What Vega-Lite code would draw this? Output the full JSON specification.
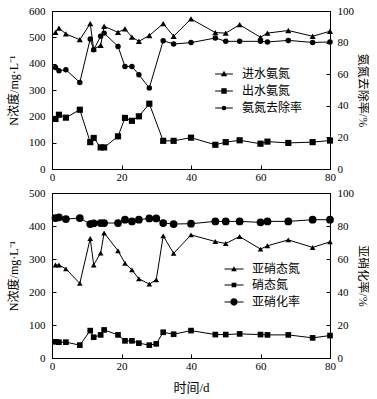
{
  "$schema": "https://vega.github.io/schema/vega-lite/v6.json",
  "padding": {"left": 7, "top": 4, "right": 0, "bottom": 2},
  "spacing": 3,
  "datasets": {
    "topN": [
      {"day": 1, "s": "进水氨氮", "v": 519}, {"day": 2, "s": "进水氨氮", "v": 535}, {"day": 4, "s": "进水氨氮", "v": 513}, {"day": 8, "s": "进水氨氮", "v": 491},
      {"day": 11, "s": "进水氨氮", "v": 552}, {"day": 12, "s": "进水氨氮", "v": 455}, {"day": 14, "s": "进水氨氮", "v": 470}, {"day": 15, "s": "进水氨氮", "v": 542},
      {"day": 19, "s": "进水氨氮", "v": 519}, {"day": 21, "s": "进水氨氮", "v": 532}, {"day": 23, "s": "进水氨氮", "v": 501}, {"day": 25, "s": "进水氨氮", "v": 485},
      {"day": 28, "s": "进水氨氮", "v": 507}, {"day": 32, "s": "进水氨氮", "v": 552}, {"day": 35, "s": "进水氨氮", "v": 504}, {"day": 40, "s": "进水氨氮", "v": 570},
      {"day": 47, "s": "进水氨氮", "v": 518}, {"day": 50, "s": "进水氨氮", "v": 516}, {"day": 54, "s": "进水氨氮", "v": 548}, {"day": 60, "s": "进水氨氮", "v": 500},
      {"day": 62, "s": "进水氨氮", "v": 516}, {"day": 68, "s": "进水氨氮", "v": 526}, {"day": 75, "s": "进水氨氮", "v": 504}, {"day": 80, "s": "进水氨氮", "v": 523},
      {"day": 1, "s": "出水氨氮", "v": 190}, {"day": 2, "s": "出水氨氮", "v": 206}, {"day": 4, "s": "出水氨氮", "v": 195}, {"day": 8, "s": "出水氨氮", "v": 225},
      {"day": 11, "s": "出水氨氮", "v": 102}, {"day": 12, "s": "出水氨氮", "v": 118}, {"day": 14, "s": "出水氨氮", "v": 82}, {"day": 15, "s": "出水氨氮", "v": 82},
      {"day": 19, "s": "出水氨氮", "v": 124}, {"day": 21, "s": "出水氨氮", "v": 194}, {"day": 23, "s": "出水氨氮", "v": 183}, {"day": 25, "s": "出水氨氮", "v": 200},
      {"day": 28, "s": "出水氨氮", "v": 248}, {"day": 32, "s": "出水氨氮", "v": 107}, {"day": 35, "s": "出水氨氮", "v": 107}, {"day": 40, "s": "出水氨氮", "v": 119},
      {"day": 47, "s": "出水氨氮", "v": 92}, {"day": 50, "s": "出水氨氮", "v": 102}, {"day": 54, "s": "出水氨氮", "v": 109}, {"day": 60, "s": "出水氨氮", "v": 96},
      {"day": 62, "s": "出水氨氮", "v": 104}, {"day": 68, "s": "出水氨氮", "v": 99}, {"day": 75, "s": "出水氨氮", "v": 102}, {"day": 80, "s": "出水氨氮", "v": 108}
    ],
    "topR": [
      {"day": 1, "s": "氨氮去除率", "v": 64.3}, {"day": 2, "s": "氨氮去除率", "v": 62.2}, {"day": 4, "s": "氨氮去除率", "v": 62.8}, {"day": 8, "s": "氨氮去除率", "v": 54.8},
      {"day": 11, "s": "氨氮去除率", "v": 82.3}, {"day": 12, "s": "氨氮去除率", "v": 75.5}, {"day": 14, "s": "氨氮去除率", "v": 84}, {"day": 15, "s": "氨氮去除率", "v": 86},
      {"day": 19, "s": "氨氮去除率", "v": 77.6}, {"day": 21, "s": "氨氮去除率", "v": 64.9}, {"day": 23, "s": "氨氮去除率", "v": 64.9}, {"day": 25, "s": "氨氮去除率", "v": 59.7},
      {"day": 28, "s": "氨氮去除率", "v": 51.3}, {"day": 32, "s": "氨氮去除率", "v": 81.2}, {"day": 35, "s": "氨氮去除率", "v": 79.1}, {"day": 40, "s": "氨氮去除率", "v": 80},
      {"day": 47, "s": "氨氮去除率", "v": 82.9}, {"day": 50, "s": "氨氮去除率", "v": 80.8}, {"day": 54, "s": "氨氮去除率", "v": 80.8}, {"day": 60, "s": "氨氮去除率", "v": 80.8},
      {"day": 62, "s": "氨氮去除率", "v": 80.4}, {"day": 68, "s": "氨氮去除率", "v": 81.4}, {"day": 75, "s": "氨氮去除率", "v": 80.1}, {"day": 80, "s": "氨氮去除率", "v": 80.4}
    ],
    "botN": [
      {"day": 1, "s": "亚硝态氮", "v": 282}, {"day": 2, "s": "亚硝态氮", "v": 282}, {"day": 4, "s": "亚硝态氮", "v": 270}, {"day": 8, "s": "亚硝态氮", "v": 226},
      {"day": 11, "s": "亚硝态氮", "v": 362}, {"day": 12, "s": "亚硝态氮", "v": 282}, {"day": 14, "s": "亚硝态氮", "v": 318}, {"day": 15, "s": "亚硝态氮", "v": 379},
      {"day": 19, "s": "亚硝态氮", "v": 325}, {"day": 21, "s": "亚硝态氮", "v": 287}, {"day": 23, "s": "亚硝态氮", "v": 267}, {"day": 25, "s": "亚硝态氮", "v": 240},
      {"day": 28, "s": "亚硝态氮", "v": 224}, {"day": 30, "s": "亚硝态氮", "v": 237}, {"day": 32, "s": "亚硝态氮", "v": 370}, {"day": 35, "s": "亚硝态氮", "v": 317},
      {"day": 40, "s": "亚硝态氮", "v": 373}, {"day": 47, "s": "亚硝态氮", "v": 353}, {"day": 50, "s": "亚硝态氮", "v": 347}, {"day": 54, "s": "亚硝态氮", "v": 368},
      {"day": 60, "s": "亚硝态氮", "v": 330}, {"day": 62, "s": "亚硝态氮", "v": 340}, {"day": 68, "s": "亚硝态氮", "v": 358}, {"day": 75, "s": "亚硝态氮", "v": 335},
      {"day": 80, "s": "亚硝态氮", "v": 352},
      {"day": 1, "s": "硝态氮", "v": 49}, {"day": 2, "s": "硝态氮", "v": 48}, {"day": 4, "s": "硝态氮", "v": 48}, {"day": 8, "s": "硝态氮", "v": 39},
      {"day": 11, "s": "硝态氮", "v": 83}, {"day": 12, "s": "硝态氮", "v": 63}, {"day": 14, "s": "硝态氮", "v": 70}, {"day": 15, "s": "硝态氮", "v": 85},
      {"day": 19, "s": "硝态氮", "v": 70}, {"day": 21, "s": "硝态氮", "v": 52}, {"day": 23, "s": "硝态氮", "v": 52}, {"day": 25, "s": "硝态氮", "v": 45},
      {"day": 28, "s": "硝态氮", "v": 39}, {"day": 30, "s": "硝态氮", "v": 43}, {"day": 32, "s": "硝态氮", "v": 78}, {"day": 35, "s": "硝态氮", "v": 72},
      {"day": 40, "s": "硝态氮", "v": 83}, {"day": 47, "s": "硝态氮", "v": 71}, {"day": 50, "s": "硝态氮", "v": 71}, {"day": 54, "s": "硝态氮", "v": 73},
      {"day": 60, "s": "硝态氮", "v": 71}, {"day": 62, "s": "硝态氮", "v": 70}, {"day": 68, "s": "硝态氮", "v": 70}, {"day": 75, "s": "硝态氮", "v": 61},
      {"day": 80, "s": "硝态氮", "v": 68}
    ],
    "botR": [
      {"day": 1, "s": "亚硝化率", "v": 84.8}, {"day": 2, "s": "亚硝化率", "v": 85.3}, {"day": 4, "s": "亚硝化率", "v": 84.2}, {"day": 8, "s": "亚硝化率", "v": 84.8},
      {"day": 11, "s": "亚硝化率", "v": 81.2}, {"day": 12, "s": "亚硝化率", "v": 81.6}, {"day": 14, "s": "亚硝化率", "v": 81.8}, {"day": 15, "s": "亚硝化率", "v": 81.8},
      {"day": 19, "s": "亚硝化率", "v": 81.8}, {"day": 21, "s": "亚硝化率", "v": 83.8}, {"day": 23, "s": "亚硝化率", "v": 82.8}, {"day": 25, "s": "亚硝化率", "v": 83.8},
      {"day": 28, "s": "亚硝化率", "v": 84.6}, {"day": 30, "s": "亚硝化率", "v": 84.6}, {"day": 32, "s": "亚硝化率", "v": 81.8}, {"day": 35, "s": "亚硝化率", "v": 81.2},
      {"day": 40, "s": "亚硝化率", "v": 81.4}, {"day": 47, "s": "亚硝化率", "v": 82.8}, {"day": 50, "s": "亚硝化率", "v": 82.8}, {"day": 54, "s": "亚硝化率", "v": 82.8},
      {"day": 60, "s": "亚硝化率", "v": 82.2}, {"day": 62, "s": "亚硝化率", "v": 82.8}, {"day": 68, "s": "亚硝化率", "v": 82.8}, {"day": 75, "s": "亚硝化率", "v": 83.8},
      {"day": 80, "s": "亚硝化率", "v": 83.8}
    ]
  },
  "vconcat": [
    {
      "width": 278,
      "height": 158,
      "layer": [
        {
          "data": {"name": "topN"},
          "encoding": {
            "x": {"field": "day", "type": "quantitative", "scale": {"domain": [0, 80], "nice": false}, "axis": {"values": [0, 10, 20, 30, 40, 50, 60, 70, 80], "title": null}},
            "y": {"field": "v", "type": "quantitative", "scale": {"domain": [0, 600], "nice": false}, "axis": {"values": [0, 100, 200, 300, 400, 500, 600], "title": "N浓度/mg·L⁻¹"}}
          },
          "layer": [
            {"mark": {"type": "line", "color": "black", "strokeWidth": 1}, "encoding": {"detail": {"field": "s"}}},
            {"mark": {"type": "point", "filled": true, "opacity": 1, "color": "black"},
             "encoding": {
               "shape": {"field": "s", "type": "nominal", "scale": {"domain": ["进水氨氮", "出水氨氮"], "range": ["triangle-up", "square"]}, "legend": null},
               "size": {"value": 38}
             }}
          ]
        },
        {
          "data": {"name": "topR"},
          "encoding": {
            "x": {"field": "day", "type": "quantitative", "scale": {"domain": [0, 80], "nice": false}},
            "y": {"field": "v", "type": "quantitative", "scale": {"domain": [0, 100], "nice": false}, "axis": {"orient": "right", "values": [0, 20, 40, 60, 80, 100], "title": "氨氮去除率/%", "titlePadding": 2}}
          },
          "layer": [
            {"mark": {"type": "line", "color": "black", "strokeWidth": 1}, "encoding": {"detail": {"field": "s"}}},
            {"mark": {"type": "point", "filled": true, "opacity": 1, "color": "black", "shape": "circle", "size": 30}, "encoding": {}},
            {"mark": {"type": "point", "filled": true, "fill": "black", "opacity": 0},
             "encoding": {
               "shape": {"field": "s", "type": "nominal",
                 "scale": {"domain": ["进水氨氮", "出水氨氮", "氨氮去除率"],
                           "range": ["M-2.8,-0.16H2.8V0.16H-2.8ZM0,-1L1,0.75H-1Z", "M-2.8,-0.16H2.8V0.16H-2.8ZM-0.85,-0.85H0.85V0.85H-0.85Z", "M-2.8,-0.16H2.8V0.16H-2.8ZM-0.75,0A0.75,0.75 0 1,1 0.75,0A0.75,0.75 0 1,1 -0.75,0Z"]},
                 "legend": {"title": null, "orient": "none", "legendX": 166, "legendY": 57, "labelFontSize": 12, "symbolSize": 40, "rowPadding": 5, "labelOffset": 12,
                   "symbolOpacity": 1, "symbolFillColor": "black"}},
               "size": {"value": 30}
             }}
          ]
        }
      ],
      "resolve": {"scale": {"y": "independent", "shape": "independent"}, "axis": {"y": "independent"}}
    },
    {
      "width": 278,
      "height": 165,
      "layer": [
        {
          "data": {"name": "botN"},
          "encoding": {
            "x": {"field": "day", "type": "quantitative", "scale": {"domain": [0, 80], "nice": false}, "axis": {"values": [0, 10, 20, 30, 40, 50, 60, 70, 80], "title": "时间/d", "titleFontSize": 13, "titlePadding": 10}},
            "y": {"field": "v", "type": "quantitative", "scale": {"domain": [0, 500], "nice": false}, "axis": {"values": [0, 100, 200, 300, 400, 500], "title": "N浓度/mg·L⁻¹"}}
          },
          "layer": [
            {"mark": {"type": "line", "color": "black", "strokeWidth": 1}, "encoding": {"detail": {"field": "s"}}},
            {"mark": {"type": "point", "filled": true, "opacity": 1, "color": "black"},
             "encoding": {
               "shape": {"field": "s", "type": "nominal", "scale": {"domain": ["亚硝态氮", "硝态氮"], "range": ["triangle-up", "square"]}, "legend": null},
               "size": {"value": 32}
             }}
          ]
        },
        {
          "data": {"name": "botR"},
          "encoding": {
            "x": {"field": "day", "type": "quantitative", "scale": {"domain": [0, 80], "nice": false}},
            "y": {"field": "v", "type": "quantitative", "scale": {"domain": [0, 100], "nice": false}, "axis": {"orient": "right", "values": [0, 20, 40, 60, 80, 100], "title": "亚硝化率/%", "titlePadding": 2}}
          },
          "layer": [
            {"mark": {"type": "line", "color": "black", "strokeWidth": 1}, "encoding": {"detail": {"field": "s"}}},
            {"mark": {"type": "point", "filled": true, "opacity": 1, "color": "black", "shape": "circle", "size": 60}, "encoding": {}},
            {"mark": {"type": "point", "filled": true, "fill": "black", "opacity": 0},
             "encoding": {
               "shape": {"field": "s", "type": "nominal",
                 "scale": {"domain": ["亚硝态氮", "硝态氮", "亚硝化率"],
                           "range": ["M-3,-0.16H3V0.16H-3ZM0,-0.85L0.9,0.7H-0.9Z", "M-3,-0.16H3V0.16H-3ZM-0.75,-0.75H0.75V0.75H-0.75Z", "M-3,-0.16H3V0.16H-3ZM-1.15,0A1.15,1.15 0 1,1 1.15,0A1.15,1.15 0 1,1 -1.15,0Z"]},
                 "legend": {"title": null, "orient": "none", "legendX": 176, "legendY": 70, "labelFontSize": 12, "symbolSize": 40, "rowPadding": 4, "labelOffset": 12,
                   "symbolOpacity": 1, "symbolFillColor": "black"}},
               "size": {"value": 30}
             }}
          ]
        }
      ],
      "resolve": {"scale": {"y": "independent", "shape": "independent"}, "axis": {"y": "independent"}}
    }
  ],
  "resolve": {"scale": {"shape": "independent"}, "legend": {"shape": "independent"}},
  "config": {
    "font": "'Liberation Serif', 'Noto Sans CJK SC', serif",
    "background": "white",
    "view": {"stroke": "black", "strokeWidth": 1},
    "axis": {
      "grid": false, "domainColor": "black", "tickColor": "black", "labelColor": "black", "titleColor": "black",
      "labelFontSize": 11, "titleFontSize": 12, "titleFontWeight": "normal", "tickSize": -4, "labelPadding": 11, "titlePadding": 8, "labelFlush": false, "labelOverlap": false
    },
    "axisX": {"labelPadding": 6, "titlePadding": 4},
    "legend": {"labelColor": "black", "labelFont": "'Noto Sans CJK SC', sans-serif"}
  }
}
